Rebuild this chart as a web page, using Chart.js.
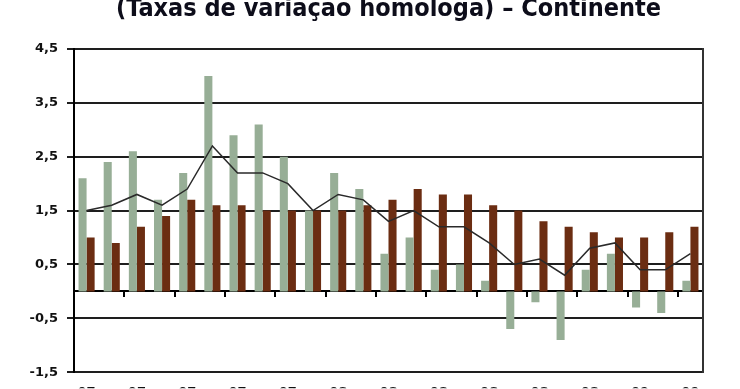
<!DOCTYPE html>
<html><head><meta charset="utf-8">
<script src="https://cdn.jsdelivr.net/npm/chart.js@4.4.1/dist/chart.umd.min.js"></script>
<style>html,body{margin:0;padding:0;background:#fff;overflow:hidden}#wrap{width:740px;height:389px}</style>
</head><body><div id="wrap"><canvas id="c" width="740" height="389"></canvas></div>
<script>
const months = ["Mar-07","Abr-07","Mai-07","Jun-07","Jul-07","Ago-07","Set-07","Out-07","Nov-07","Dez-07","Jan-08","Fev-08","Mar-08","Abr-08","Mai-08","Jun-08","Jul-08","Ago-08","Set-08","Out-08","Nov-08","Dez-08","Jan-09","Fev-09","Mar-09"];
const seriesGreen = [2.1,2.4,2.6,1.7,2.2,4.0,2.9,3.1,2.5,1.5,2.2,1.9,0.7,1.0,0.4,0.5,0.2,-0.7,-0.2,-0.9,0.4,0.7,-0.3,-0.4,0.2];
const seriesBrown = [1.0,0.9,1.2,1.4,1.7,1.6,1.6,1.5,1.5,1.5,1.5,1.6,1.7,1.9,1.8,1.8,1.6,1.5,1.3,1.2,1.1,1.0,1.0,1.1,1.2];
const seriesLine = [1.5,1.6,1.8,1.6,1.9,2.7,2.2,2.2,2.0,1.5,1.8,1.7,1.3,1.5,1.2,1.2,0.9,0.5,0.6,0.3,0.8,0.9,0.4,0.4,0.7];
const yMin = -1.5, yMax = 4.5, yStep = 1;
const titleText = "(Taxas de variação homóloga) – Continente";

const fmt = v => Number(v).toFixed(1).replace('.', ',');
const tickFont = {family: "'DejaVu Sans', Verdana, sans-serif", size: 13, weight: 'bold'};

new Chart(document.getElementById('c'), {
  type: 'bar',
  data: {
    labels: months,
    datasets: [
      {type: 'line', data: seriesLine, borderColor: '#2a2a2a', borderWidth: 1.5, pointRadius: 0, tension: 0, fill: false, order: 0},
      {data: seriesGreen, backgroundColor: '#97AE96', order: 1, categoryPercentage: 0.64, barPercentage: 1},
      {data: seriesBrown, backgroundColor: '#6B2D12', order: 1, categoryPercentage: 0.64, barPercentage: 1}
    ]
  },
  options: {
    responsive: false,
    devicePixelRatio: 1,
    animation: false,
    layout: {padding: 0},
    plugins: {
      legend: {display: false},
      tooltip: {enabled: false},
      title: {
        display: true, text: titleText, fullSize: false, align: 'center',
        color: '#0d0d1a',
        font: {family: "'Liberation Sans Narrow','DejaVu Sans Condensed','Arial Narrow',sans-serif", size: 25, weight: 'bold', lineHeight: 0.72},
        padding: {top: 0, bottom: 31}
      }
    },
    scales: {
      x: {
        grid: {display: false, drawTicks: false},
        border: {display: false},
        ticks: {
          autoSkip: false, maxRotation: 0, minRotation: 0, padding: 13,
          font: tickFont, color: '#111',
          callback: function(v, i) {
            if (i % 2 !== 0) return '';
            const p = months[i].split('-');
            return [p[1], p[0]];
          }
        },
        afterFit: s => { s.height = 16; }
      },
      x2: {
        type: 'category', axis: 'x', position: {y: 0}, offset: true,
        grid: {offset: true, drawOnChartArea: false, drawTicks: true, tickLength: 5, lineWidth: 2,
          color: c => (c.index % 2 === 0 && c.index > 0 && c.index < months.length) ? '#000' : 'rgba(0,0,0,0)'},
        ticks: {display: false},
        border: {display: true, color: '#000', width: 2}
      },
      y: {
        min: yMin, max: yMax,
        ticks: {stepSize: yStep, callback: fmt, font: tickFont, color: '#111', padding: 9},
        grid: {color: '#1e1e1e', lineWidth: 2, drawTicks: true, tickLength: 7},
        border: {display: true, color: '#000', width: 2},
        afterFit: s => { s.width = 74; }
      },
      yR: {
        type: 'linear', axis: 'y', position: 'right', min: yMin, max: yMax,
        ticks: {display: false},
        grid: {display: false},
        border: {display: true, color: '#333', width: 2},
        afterFit: s => { s.width = 37; }
      }
    }
  }
});
</script>
</body></html>
